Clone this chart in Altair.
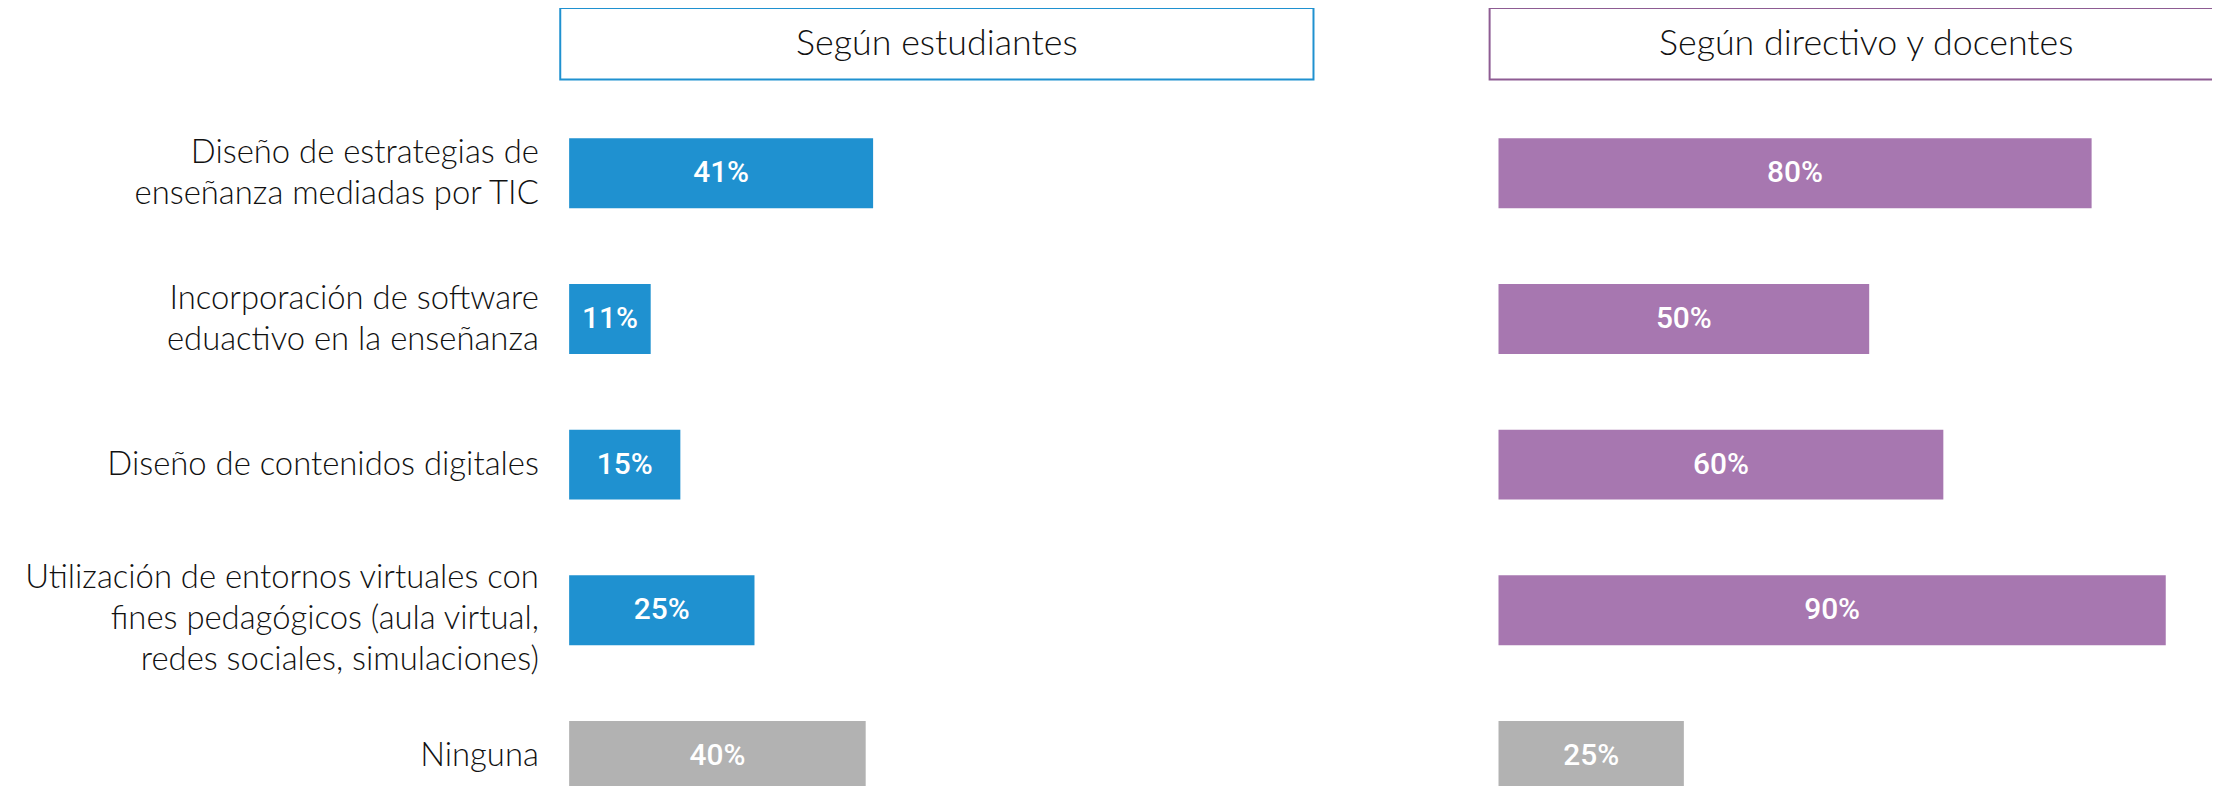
import altair as alt
import pandas as pd

# ---- data ----
categorias = [
    "Diseño de estrategias de|enseñanza mediadas por TIC",
    "Incorporación de software|eduactivo en la enseñanza",
    "Diseño de contenidos digitales",
    "Utilización de entornos virtuales con|fines pedagógicos (aula virtual,|redes sociales, simulaciones)",
    "Ninguna",
]
estudiantes = [41, 11, 15, 25, 40]
docentes = [80, 50, 60, 90, 25]
titulos = ["Según estudiantes", "Según directivo y docentes"]

AZUL = "#1F91D0"
MORADO = "#A777B0"
GRIS = "#B2B2B2"
BORDE_MORADO = "#8E5C93"

LABEL_FONT = "Segoe UI Light, Lato, Open Sans"
VALUE_FONT = "DIN Condensed, Roboto"

PANEL_W = 757          # full panel width (box width in the reference)
RIGHT_W = 726          # right panel is cut by the page edge
PANEL_H = 72
X_MIN = -1.2
PX_PER_UNIT = PANEL_W / 101.6


def panel_df(valores):
    return pd.DataFrame({"categoria": categorias, "valor": valores})


def titulo_chart(texto, borde, ancho, abierto=False):
    if abierto:
        # box continues beyond the page edge: no right side drawn
        vista = alt.ViewBackground(stroke=borde, strokeWidth=2,
                                   strokeDash=[ancho, PANEL_H, ancho + PANEL_H, 0])
    else:
        vista = alt.ViewBackground(stroke=borde, strokeWidth=2)
    return (
        alt.Chart(pd.DataFrame({"titulo": [texto]}), view=vista)
        .mark_text(font=LABEL_FONT, fontWeight=300, fontSize=36, color="#111111",
                   dx=(PANEL_W - ancho) / 2)
        .encode(text="titulo:N")
        .properties(width=ancho, height=PANEL_H)
    )


def barras_chart(valores, color, con_eje, ancho):
    eje = (
        alt.Axis(
            title=None, domain=False, ticks=False, labelPadding=22,
            labelFont=LABEL_FONT, labelFontWeight=300, labelFontSize=33,
            labelColor="#111111", labelLineHeight=41, labelLimit=0,
            labelExpr="split(datum.label, '|')",
            labelOffset={
                "condition": [
                    {"test": "length(split(datum.value, '|')) == 3", "value": -32},
                    {"test": "length(split(datum.value, '|')) == 2", "value": -20},
                ],
                "value": 0,
            },
        )
        if con_eje else None
    )
    y = alt.Y("categoria:N", sort=categorias,
              scale=alt.Scale(paddingInner=0.52, paddingOuter=0.26),
              axis=eje)
    base = (
        alt.Chart(panel_df(valores))
        .transform_calculate(inicio="0", medio="datum.valor / 2",
                             etiqueta="datum.valor + '%'")
        .encode(y=y)
    )
    xs = alt.Scale(domain=[X_MIN, X_MIN + ancho / PX_PER_UNIT], nice=False, zero=False)
    barras = base.mark_bar().encode(
        x=alt.X("inicio:Q", scale=xs, axis=None),
        x2="valor:Q",
        color=alt.condition(alt.datum.categoria == "Ninguna",
                            alt.value(GRIS), alt.value(color)),
    )
    textos = base.mark_text(font=VALUE_FONT, fontSize=30, fontWeight=500,
                            color="white", baseline="middle").encode(
        x=alt.X("medio:Q", scale=xs, axis=None),
        text="etiqueta:N",
    )
    return alt.layer(barras, textos,
                     view=alt.ViewBackground(stroke="transparent", strokeWidth=0)
                     ).properties(width=ancho, height=732)


izq = alt.vconcat(titulo_chart(titulos[0], AZUL, PANEL_W),
                  barras_chart(estudiantes, AZUL, True, PANEL_W),
                  spacing=21, bounds="flush")
der = alt.vconcat(titulo_chart(titulos[1], BORDE_MORADO, RIGHT_W, abierto=True),
                  barras_chart(docentes, MORADO, False, RIGHT_W),
                  spacing=21, bounds="flush")

chart = (
    alt.hconcat(izq, der, spacing=175)
    .properties(padding={"left": 15, "top": -3, "right": 0, "bottom": -45})
    .configure_view(stroke="transparent", strokeWidth=0)
    .configure(background="white")
)

chart.save("out.html", embed_options={"renderer": "svg", "actions": False})
